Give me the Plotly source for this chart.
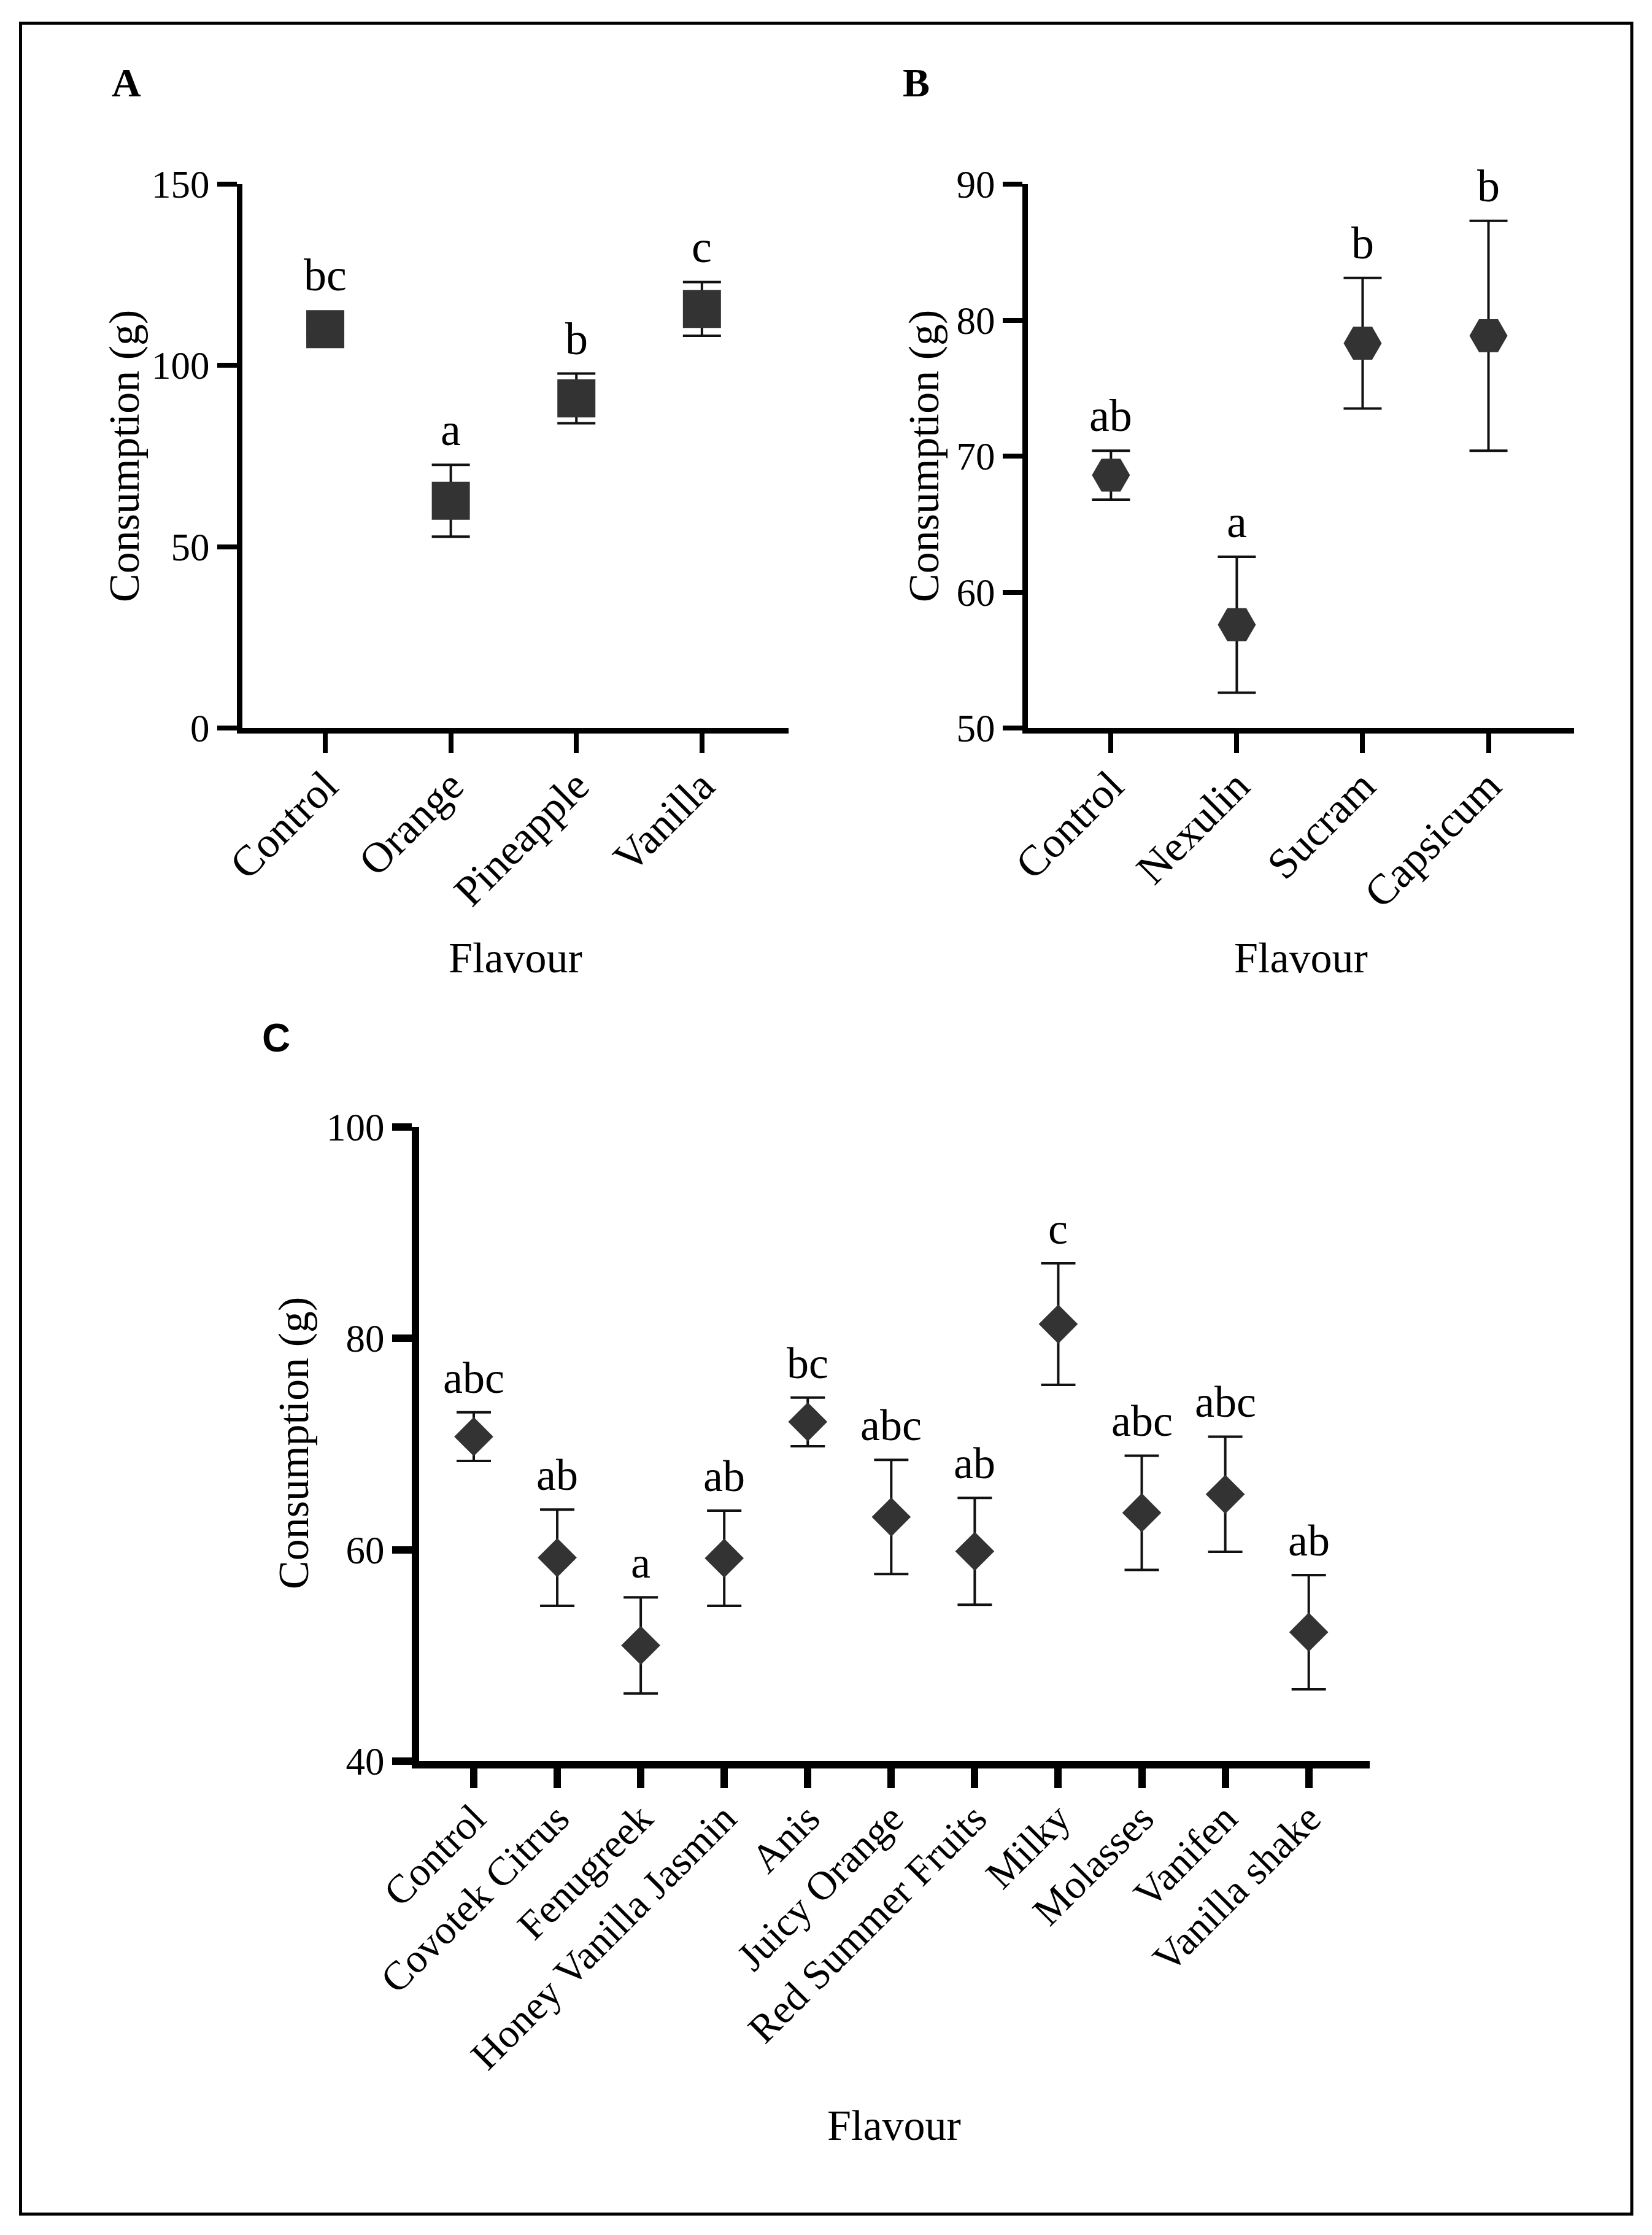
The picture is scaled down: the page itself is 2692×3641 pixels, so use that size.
import plotly.graph_objects as go

# ---------------- data ----------------
a_flavours = ["Control", "Orange", "Pineapple", "Vanilla"]
a_mean = [110.0, 62.7, 90.9, 115.6]
a_sem = [1.5, 9.9, 6.85, 7.4]
a_letters = ["bc", "a", "b", "c"]
a_yticks = [0, 50, 100, 150]

b_flavours = ["Control", "Nexulin", "Sucram", "Capsicum"]
b_mean = [68.6, 57.6, 78.3, 78.85]
b_sem = [1.8, 5.0, 4.8, 8.45]
b_letters = ["ab", "a", "b", "b"]
b_yticks = [50, 60, 70, 80, 90]

c_flavours = ["Control", "Covotek Citrus", "Fenugreek", "Honey Vanilla Jasmin", "Anis",
              "Juicy Orange", "Red Summer Fruits", "Milky", "Molasses", "Vanifen",
              "Vanilla shake"]
c_mean = [70.7, 59.25, 50.95, 59.2, 72.1, 63.1, 59.85, 81.35, 63.5, 65.25, 52.2]
c_sem = [2.3, 4.55, 4.55, 4.5, 2.3, 5.4, 5.05, 5.75, 5.4, 5.45, 5.4]
c_letters = ["abc", "ab", "a", "ab", "bc", "abc", "ab", "c", "abc", "abc", "ab"]
c_yticks = [40, 60, 80, 100]

# ---------------- geometry (page pixels) ----------------
W_PAGE, H_PAGE = 2692, 3641
OFF = 8
W = W_PAGE - 2 * OFF
H = H_PAGE - 2 * OFF


def pxx(xp):
    return (xp - OFF) / W


def pxy(yp):
    return 1 - (yp - OFF) / H


FONT = "Liberation Serif"
MARK = "#333333"

panels = [
    dict(key="", flav=a_flavours, mean=a_mean, sem=a_sem, let=a_letters, yt=a_yticks,
         box=(395, 1285, 300, 1186), xr=[-0.66, 3.69], yr=[0, 150],
         sym="square", msize=62, cap=31, lw=9, tw=8, tl=32, xfs=70, gap=14, lfs=74),
    dict(key="2", flav=b_flavours, mean=b_mean, sem=b_sem, let=b_letters, yt=b_yticks,
         box=(1675, 2565, 300, 1186), xr=[-0.66, 3.68], yr=[50, 90],
         sym="hexagon2", msize=62, cap=31, lw=9, tw=8, tl=32, xfs=70, gap=14, lfs=74),
    dict(key="3", flav=c_flavours, mean=c_mean, sem=c_sem, let=c_letters, yt=c_yticks,
         box=(683, 2232, 1836, 2869), xr=[-0.654, 10.73], yr=[40, 100],
         sym="diamond", msize=49, cap=28, lw=12, tw=12, tl=32, xfs=66, gap=14, lfs=72),
]

fig = go.Figure()
annotations = []
layout = {}

for p in panels:
    k = p["key"]
    n = len(p["flav"])
    xs = list(range(n))
    fig.add_trace(go.Scatter(
        x=xs, y=p["mean"], mode="markers",
        xaxis="x" + k, yaxis="y" + k,
        marker=dict(symbol=p["sym"], size=p["msize"], color=MARK, line=dict(width=0)),
        error_y=dict(type="data", array=p["sem"], visible=True, color="#111111",
                     thickness=4, width=p["cap"]),
        showlegend=False, hoverinfo="skip",
    ))
    x0, x1, y0, y1 = p["box"]
    ax_common = dict(showgrid=False, zeroline=False, showline=True, linecolor="black",
                     linewidth=p["lw"], ticks="outside", tickwidth=p["tw"], ticklen=p["tl"],
                     tickcolor="black", fixedrange=True, automargin=False)
    layout["xaxis" + k] = dict(
        ax_common, domain=[pxx(x0), pxx(x1)], range=p["xr"], anchor="y" + k,
        tickmode="array", tickvals=xs, ticktext=p["flav"], tickangle=-45,
        ticklabelstandoff=-16,
        tickfont=dict(family=FONT, size=p["xfs"], color="black"))
    layout["yaxis" + k] = dict(
        ax_common, domain=[pxy(y1), pxy(y0)], range=p["yr"], anchor="x" + k,
        tickmode="array", tickvals=p["yt"],
        tickfont=dict(family=FONT, size=63, color="black"))
    # letters above error bars
    ppu = (y1 - y0) / (p["yr"][1] - p["yr"][0])
    half = p["msize"] * (0.65 if p["sym"] == "diamond" else 0.5) / ppu
    for i in range(n):
        top = max(p["mean"][i] + p["sem"][i], p["mean"][i] + half)
        annotations.append(dict(
            x=i, y=top, xref="x" + k, yref="y" + k, text=p["let"][i], showarrow=False,
            xanchor="center", yanchor="bottom", yshift=p["gap"],
            font=dict(family=FONT, size=p["lfs"], color="black")))

# axis titles and panel labels
titles = [
    ("Consumption (g)", 202, 743, -90), ("Flavour", 840, 1560, 0),
    ("Consumption (g)", 1505, 743, -90), ("Flavour", 2120, 1560, 0),
    ("Consumption (g)", 478, 2351, -90), ("Flavour", 1457, 3462, 0),
]
for t, xp, yp, ang in titles:
    annotations.append(dict(
        x=pxx(xp), y=pxy(yp), xref="paper", yref="paper", text=t, showarrow=False,
        xanchor="center", yanchor="middle", textangle=ang,
        font=dict(family=FONT, size=70, color="black")))

for t, xp, yp, fam, sz in [("<b>A</b>", 206, 135, FONT, 66), ("<b>B</b>", 1493, 135, FONT, 66),
                           ("<b>C</b>", 450, 1691, "Liberation Sans", 64)]:
    annotations.append(dict(
        x=pxx(xp), y=pxy(yp), xref="paper", yref="paper", text=t, showarrow=False,
        xanchor="center", yanchor="middle",
        font=dict(family=fam, size=sz, color="black")))

fig.update_layout(
    **layout,
    template="none",
    annotations=annotations,
    shapes=[dict(type="rect", xref="paper", yref="paper",
                 x0=pxx(33.5), x1=pxx(2659), y0=pxy(3607), y1=pxy(38),
                 line=dict(color="black", width=5))],
    width=W, height=H, autosize=False,
    margin=dict(l=0, r=0, t=0, b=0, pad=0, autoexpand=False),
    paper_bgcolor="white", plot_bgcolor="white",
    font=dict(family=FONT, color="black"),
)

fig.write_html("out.html")
